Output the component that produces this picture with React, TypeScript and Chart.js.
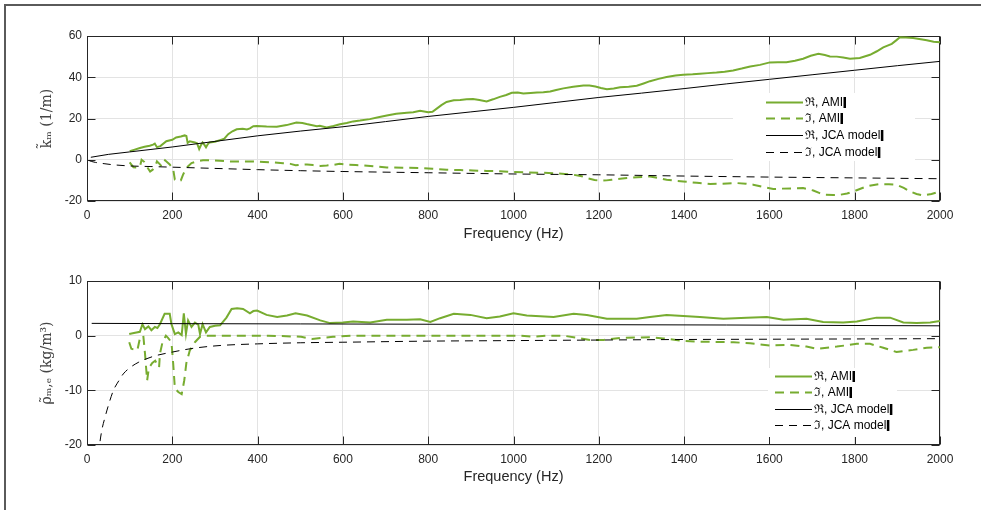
import React, { useEffect, useRef } from 'react';
import { Chart, registerables } from 'chart.js';

Chart.register(...registerables);

const GREEN = '#77AC30';
const DARK = '#262626';
const GRID = '#e3e3e3';
const SANS = '"Liberation Sans", Arial, Helvetica, sans-serif';

// ---------- labels ----------
const legendLabels = ['\u211C, AMI', '\u2111, AMI', '\u211C, JCA model', '\u2111, JCA model'];
const xTitle = 'Frequency (Hz)';
const topYTitle = 'k\u0303\u2098 (1/m)';
const botYTitle = '\u03C1\u0303\u2098,\u2091 (kg/m\u00B3)';
const xTickStep = 200;

// ---------- top panel: wavenumber ----------
const kReAmiFreq = [100,110,124,135,147,155,159,164,172,186,200,209,220,229,233,236,241,253,258,263,267,271,275,279,283,287,300,312,322,331,341,351,365,375,382,390,398,421,445,468,491,505,515,539,546,562,578,593,609,624,640,663,683,703,725,750,765,781,800,810,820,831,843,860,875,890,905,920,937,952,968,983,996,1010,1023,1040,1055,1070,1086,1100,1117,1140,1164,1178,1192,1205,1219,1235,1250,1270,1289,1305,1320,1340,1359,1380,1398,1420,1437,1456,1476,1495,1515,1535,1555,1578,1601,1620,1640,1660,1679,1697,1715,1730,1742,1758,1773,1789,1812,1836,1852,1867,1887,1898,1906,1920,1937,1955,1969,1985,2000];
const kReAmiVal = [4.2,4.8,5.7,6.3,6.8,7.3,7.8,6.1,6.6,9.0,9.7,10.8,11.3,11.8,11.5,8.2,8.9,8.4,8.0,5.2,7.0,8.4,7.3,6.0,7.5,8.4,8.7,9.5,10.2,12.4,13.8,14.8,15.0,14.7,15.2,16.3,16.4,16.1,16.0,16.8,18.0,17.8,17.3,16.3,16.5,15.7,16.4,17.2,17.8,18.6,19.0,19.7,20.6,21.5,22.3,22.8,23.0,23.8,23.0,23.3,24.8,26.5,28.0,28.8,29.0,29.3,29.4,29.0,28.3,29.3,30.5,31.4,32.5,32.6,32.1,32.4,32.6,32.7,33.1,33.8,34.6,35.4,36.0,36.0,35.5,34.8,34.2,34.6,35.2,35.4,35.9,37.0,38.1,39.2,40.1,40.8,41.2,41.4,41.7,42.0,42.3,42.7,43.3,44.2,45.2,46.0,47.2,47.3,47.3,48.0,49.0,50.4,51.4,50.8,50.1,50.0,49.6,49.0,49.3,50.9,52.6,54.5,56.2,58.0,59.4,59.3,59.0,58.4,57.9,57.2,57.0];

const kImAmiFreq = [100,105,109,118,124,128,134,140,148,154,160,164,170,175,183,194,202,206,214,220,225,233,245,257,272,288,312,335,360,391,415,438,460,477,489,500,516,530,547,562,578,592,609,630,648,675,703,740,781,810,843,875,905,937,968,1000,1031,1062,1094,1120,1141,1160,1172,1190,1203,1218,1230,1250,1266,1290,1320,1340,1359,1380,1398,1430,1461,1490,1523,1545,1562,1585,1609,1630,1656,1679,1703,1718,1730,1750,1765,1782,1797,1812,1828,1845,1859,1880,1898,1915,1930,1945,1961,1980,2000];
const kImAmiVal = [-1.3,-2.6,-3.7,-3.8,-3.5,0.0,-1.0,-3.2,-5.7,-4.8,-3.2,-0.8,-2.0,-3.2,-0.3,-2.3,-4.5,-9.7,-10.5,-10.0,-7.3,-4.0,-1.6,-0.8,-0.3,-0.2,-0.5,-0.8,-0.8,-0.8,-1.1,-1.3,-1.7,-2.0,-2.7,-2.4,-2.3,-2.6,-3.0,-2.8,-2.5,-2.0,-2.4,-2.6,-2.7,-3.2,-3.7,-3.9,-4.0,-4.4,-4.8,-5.0,-5.2,-5.4,-5.6,-5.9,-6.1,-6.3,-6.5,-6.9,-7.3,-8.0,-8.9,-9.8,-10.2,-10.0,-9.7,-9.2,-8.9,-8.5,-8.1,-8.9,-9.7,-10.2,-10.5,-11.2,-11.8,-11.6,-11.3,-11.6,-12.1,-13.2,-14.2,-14.0,-13.9,-13.7,-14.9,-16.2,-17.0,-17.1,-17.0,-16.4,-15.4,-14.2,-12.9,-12.2,-11.8,-11.9,-12.1,-13.6,-15.4,-16.6,-17.3,-16.6,-15.4];

const kReJcaFreq = [9,50,100,150,200,300,400,500,600,700,800,900,1000,1100,1200,1300,1400,1500,1600,1700,1800,1900,2000];
const kReJcaVal = [1.2,2.6,3.8,5.0,6.2,8.9,11.6,13.9,16.0,18.5,21.0,23.2,25.4,27.8,30.2,32.3,34.5,36.8,39.0,41.2,43.4,45.6,47.7];

const kImJcaFreq = [5,10,20,40,60,100,150,200,300,400,500,600,800,1000,1200,1400,1600,1800,2000];
const kImJcaVal = [-0.4,-0.8,-1.3,-1.9,-2.4,-3.0,-3.3,-3.6,-4.2,-4.8,-5.3,-5.7,-6.3,-6.9,-7.3,-7.9,-8.4,-8.8,-9.2];

// ---------- bottom panel: effective density ----------
const rReAmiFreq = [99,110,124,130,136,144,151,159,165,171,182,194,198,206,214,222,227,232,237,245,253,261,265,271,279,288,300,312,327,339,352,366,382,390,399,421,446,469,489,516,547,570,600,624,664,703,750,781,805,828,860,899,937,968,1000,1031,1094,1141,1172,1219,1250,1289,1320,1359,1398,1437,1492,1547,1594,1633,1687,1726,1773,1805,1851,1883,1914,1945,1977,2000];
const rReAmiVal = [0.3,0.5,0.7,2.1,1.2,1.7,1.0,1.6,1.4,2.1,4.0,4.0,2.1,0.3,0.6,0.1,4.1,0.3,2.8,1.6,2.4,2.0,0.3,2.1,0.6,1.6,1.8,1.9,3.3,4.9,5.0,4.9,4.1,4.5,4.6,3.8,3.4,3.7,4.1,3.7,2.8,2.3,2.4,2.6,2.4,2.9,2.9,3.0,2.5,3.2,4.0,3.8,3.2,3.5,4.1,3.7,3.4,4.0,3.8,3.1,3.1,3.1,3.4,3.8,3.6,3.4,3.1,3.3,3.4,2.9,3.1,2.5,2.4,2.6,3.3,3.3,2.4,2.3,2.4,2.7];

const rImAmiFreq = [99,104,118,124,132,136,141,145,153,160,167,169,171,177,185,190,198,202,206,214,222,228,233,241,253,265,280,350,425,502,528,550,577,624,781,1015,1047,1078,1117,1149,1180,1211,1250,1320,1351,1391,1437,1516,1555,1602,1648,1687,1711,1758,1805,1836,1867,1898,1937,1969,2000];
const rImAmiVal = [-1.2,-2.4,-2.7,-0.5,0.0,-3.3,-8.2,-5.9,-5.0,-4.6,-5.5,-5.8,-3.3,-1.2,0.0,-0.4,-1.2,-5.0,-9.6,-10.3,-10.7,-8.2,-5.0,-2.7,-1.2,-0.2,0.0,0.0,0.0,-0.2,-0.6,-0.4,-0.2,0.0,0.0,0.0,-0.2,0.0,0.0,-0.4,-0.8,-0.8,-0.4,-0.3,-0.5,-0.9,-1.1,-1.2,-1.4,-1.8,-1.7,-2.0,-2.4,-2.0,-1.5,-1.5,-2.2,-3.0,-2.6,-2.2,-2.1];

const rReJcaFreq = [11,200,500,1000,1500,2000];
const rReJcaVal = [2.25,2.2,2.15,2.05,1.95,1.8];

const rImJcaFreq = [22,25,29,35,42,50,62,75,85,100,120,155,200,250,312,400,500,600,800,1000,1200,1400,1600,1800,2000];
const rImJcaVal = [-27.0,-23.5,-20.3,-17.2,-15.0,-12.8,-10.0,-8.2,-7.0,-5.9,-4.9,-3.8,-3.0,-2.3,-1.8,-1.5,-1.3,-1.2,-1.0,-0.9,-0.8,-0.7,-0.65,-0.6,-0.55];

const pts = (f: number[], v: number[]) => f.map((x, i) => ({ x, y: v[i] }));

function makeDatasets(reAmi: any[], imAmi: any[], reJca: any[], imJca: any[]) {
  return [
    { label: legendLabels[0], data: reAmi, borderColor: GREEN, borderWidth: 2, borderDash: [], pointRadius: 0, order: 3 },
    { label: legendLabels[1], data: imAmi, borderColor: GREEN, borderWidth: 2, borderDash: [9, 6], pointRadius: 0, order: 2 },
    { label: legendLabels[2], data: reJca, borderColor: '#000', borderWidth: 1, borderDash: [], pointRadius: 0, order: 1 },
    { label: legendLabels[3], data: imJca, borderColor: '#000', borderWidth: 1, borderDash: [8, 6], pointRadius: 0, order: 0, cubicInterpolationMode: 'monotone' },
  ];
}

const boxPlugin = {
  id: 'matlabBox',
  beforeDatasetsDraw(chart: any) {
    const { ctx, chartArea: a, scales } = chart;
    const L = Math.round(a.left) + 0.5, R = Math.round(a.right) - 0.5;
    const T = Math.round(a.top) + 0.5, B = Math.round(a.bottom) - 0.5;
    const tl = 8;
    ctx.save();
    ctx.strokeStyle = DARK;
    ctx.lineWidth = 1;
    ctx.setLineDash([]);
    ctx.beginPath();
    scales.x.ticks.forEach((t: any) => {
      const px = Math.round(scales.x.getPixelForValue(t.value)) + 0.5;
      ctx.moveTo(px, B); ctx.lineTo(px, B - tl);
      ctx.moveTo(px, T); ctx.lineTo(px, T + tl);
    });
    scales.y.ticks.forEach((t: any) => {
      const py = Math.round(scales.y.getPixelForValue(t.value)) + 0.5;
      ctx.moveTo(L, py); ctx.lineTo(L + tl, py);
      ctx.moveTo(R, py); ctx.lineTo(R - tl, py);
    });
    ctx.stroke();
    ctx.strokeRect(L, T, R - L, B - T);
    ctx.restore();
  },
};

const legendPlugin = {
  id: 'inlineLegend',
  afterDatasetsDraw(chart: any, _args: any, o: any) {
    const ctx = chart.ctx;
    ctx.save();
    ctx.fillStyle = '#fff';
    ctx.fillRect(o.boxX, o.boxY, o.boxW, o.boxH);
    chart.data.datasets.forEach((ds: any, i: number) => {
      const y = Math.round(o.y0 + i * o.rowH) + 0.5;
      ctx.strokeStyle = ds.borderColor;
      ctx.lineWidth = ds.borderWidth;
      ctx.setLineDash(ds.borderDash || []);
      ctx.beginPath();
      ctx.moveTo(o.x0, y);
      ctx.lineTo(o.x0 + o.len, y);
      ctx.stroke();
      ctx.setLineDash([]);
      ctx.font = `12px ${SANS}`;
      ctx.fillStyle = '#000';
      ctx.textBaseline = 'middle';
      ctx.textAlign = 'left';
      const tx = o.x0 + o.len + 2;
      ctx.fillText(ds.label, tx, y);
      const w = ctx.measureText(ds.label).width;
      ctx.fillRect(tx + w + 0.5, y - 5.5, 2.5, 11);
    });
    ctx.restore();
  },
};

function buildConfig(p: any) {
  return {
    type: 'line',
    data: { datasets: p.datasets },
    options: {
      responsive: false,
      animation: false,
      events: [],
      layout: { padding: { left: 0, right: 41, top: p.padTop, bottom: 0 } },
      plugins: {
        legend: { display: false },
        tooltip: { enabled: false },
        inlineLegend: p.legend,
      },
      scales: {
        x: {
          type: 'linear',
          min: 0,
          max: 2000,
          ticks: {
            stepSize: xTickStep,
            padding: 7,
            color: DARK,
            font: { family: SANS, size: 12 },
            maxRotation: 0,
            autoSkip: false,
            callback: (v: any) => String(v),
          },
          grid: { color: GRID, drawTicks: false, lineWidth: 1 },
          border: { display: false },
          title: {
            display: true,
            text: xTitle,
            color: DARK,
            font: { family: SANS, size: 14.5 },
            padding: { top: 0, bottom: p.xTitlePad },
          },
          afterFit: (s: any) => { s.height = p.xAxisH; },
        },
        y: {
          type: 'linear',
          min: p.yMin,
          max: p.yMax,
          ticks: {
            stepSize: p.yStep,
            padding: 5,
            color: DARK,
            font: { family: SANS, size: 12 },
            callback: (v: any) => String(v),
          },
          grid: { color: GRID, drawTicks: false, lineWidth: 1 },
          border: { display: false },
          title: {
            display: true,
            text: p.yTitle,
            color: '#444',
            font: { family: '"DejaVu Serif", serif', size: 14 },
            padding: { top: 39, bottom: 0 },
          },
          afterFit: (s: any) => { s.width = 87; },
        },
      },
    },
    plugins: [boxPlugin, legendPlugin],
  };
}

function Panel({ top, params }: { top: number; params: any }) {
  const ref = useRef<HTMLCanvasElement>(null);
  useEffect(() => {
    if (!ref.current) return;
    const chart = new Chart(ref.current, buildConfig(params) as any);
    return () => chart.destroy();
  }, []);
  return (
    <canvas
      ref={ref}
      width={981}
      height={255}
      style={{ position: 'absolute', left: 0, top, width: 981, height: 255 }}
    />
  );
}

export default function App() {
  const topParams = {
    datasets: makeDatasets(
      pts(kReAmiFreq, kReAmiVal),
      pts(kImAmiFreq, kImAmiVal),
      pts(kReJcaFreq, kReJcaVal),
      pts(kImJcaFreq, kImJcaVal)
    ),
    yMin: -20, yMax: 60, yStep: 20,
    yTitle: topYTitle,
    padTop: 36,
    xAxisH: 54,
    xTitlePad: 12.3,
    legend: { boxX: 733, boxY: 93, boxW: 182, boxH: 68, x0: 766, len: 37, y0: 101.7, rowH: 16.7 },
  };
  const botParams = {
    datasets: makeDatasets(
      pts(rReAmiFreq, rReAmiVal),
      pts(rImAmiFreq, rImAmiVal),
      pts(rReJcaFreq, rReJcaVal),
      pts(rImJcaFreq, rImJcaVal)
    ),
    yMin: -20, yMax: 10, yStep: 10,
    yTitle: botYTitle,
    padTop: 26,
    xAxisH: 65,
    xTitlePad: 24,
    legend: { boxX: 768, boxY: 113, boxW: 129, boxH: 69, x0: 775, len: 37, y0: 120.7, rowH: 16.4 },
  };
  return (
    <div style={{ position: 'fixed', left: 0, top: 0, width: 981, height: 510, background: '#fff', overflow: 'hidden' }}>
      <div style={{ position: 'absolute', left: 4, top: 4, width: 1000, height: 520, borderLeft: '2px solid #5a5a5a', borderTop: '2px solid #5a5a5a' }} />
      <Panel top={0} params={topParams} />
      <Panel top={255} params={botParams} />
    </div>
  );
}
